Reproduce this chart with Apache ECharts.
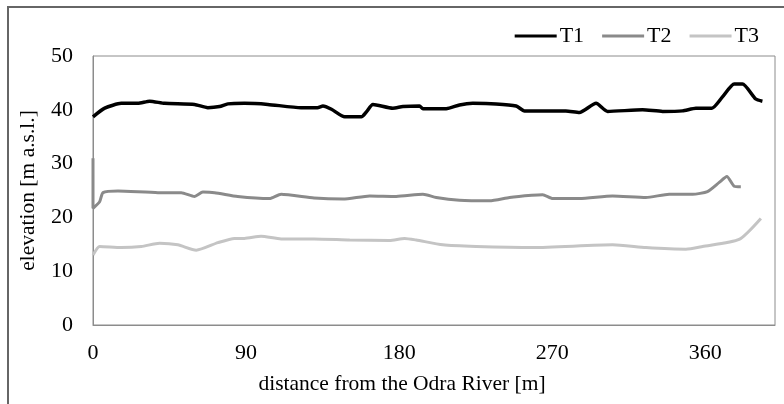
<!DOCTYPE html>
<html lang="en">
<head>
  <meta charset="UTF-8" />
  <title>Elevation profiles T1-T3</title>
  <script src="https://cdn.jsdelivr.net/npm/echarts@6.0.0/dist/echarts.min.js"></script>
  <style>
    html, body { margin: 0; padding: 0; background: #fff; }
    #chart { width: 784px; height: 404px; }
  </style>
</head>
<body>
  <div id="chart"></div>
  <script>
    // profile T1 - distance [m] / elevation [m a.s.l.]
    const t1Dist = [0, 6.9, 16.6, 26.4, 33.3, 42.1, 59.7, 67.5, 74.4, 79.3, 89, 102.8, 122.3, 132, 135.2, 140.2, 148, 157.8, 160.7, 164.6, 176.3, 182.2, 192, 194, 207.7, 215.5, 223.3, 237, 248.8, 253.7, 262.5, 278, 286, 295.8, 302.6, 323.1, 334.9, 346.6, 354.5, 363.9, 370.1, 377, 381.9, 389.7, 393.6];
    const t1Elev = [38.7, 40.3, 41.2, 41.2, 41.6, 41.2, 41.0, 40.4, 40.6, 41.1, 41.2, 41.0, 40.4, 40.4, 40.7, 40.1, 38.7, 38.7, 39.6, 41.0, 40.3, 40.6, 40.7, 40.2, 40.2, 40.9, 41.2, 41.1, 40.7, 39.8, 39.8, 39.8, 39.5, 41.2, 39.7, 40.0, 39.7, 39.8, 40.3, 40.3, 42.4, 44.8, 44.8, 42.0, 41.6];

    // profile T2
    const t2Dist = [0, 0, 3.9, 5.9, 14.7, 38.2, 51.9, 59.7, 64.6, 71.5, 85.1, 103.8, 110.6, 130, 147, 162.7, 178.3, 194, 201.8, 215.5, 233.1, 244.9, 258, 264.4, 270.3, 286, 305.5, 325.1, 338.8, 352.5, 361.3, 368.2, 372.7, 377, 380.9];
    const t2Elev = [31.0, 21.7, 22.9, 24.6, 24.9, 24.6, 24.6, 23.9, 24.7, 24.6, 23.9, 23.5, 24.3, 23.6, 23.4, 24.0, 23.9, 24.3, 23.7, 23.2, 23.1, 23.7, 24.1, 24.2, 23.5, 23.5, 24.0, 23.7, 24.3, 24.3, 24.8, 26.5, 27.6, 25.8, 25.7];

    // profile T3
    const t3Dist = [0, 3.9, 16.6, 28.4, 39.2, 49.9, 60.7, 73.4, 83.2, 89, 98.8, 110.6, 130, 150.9, 174.4, 183.2, 190, 205.7, 225.3, 259, 305.5, 325.1, 348.6, 358.4, 379.9, 392.7];
    const t3Elev = [13.0, 14.6, 14.4, 14.6, 15.2, 14.9, 13.9, 15.3, 16.1, 16.1, 16.5, 16.0, 16.0, 15.8, 15.7, 16.1, 15.8, 14.9, 14.6, 14.4, 14.9, 14.4, 14.1, 14.6, 15.9, 19.8];

    const xTicks = [0, 90, 180, 270, 360];

    function pairs(xs, ys) {
      return xs.map((x, i) => [x, ys[i]]);
    }

    const serif = '"Liberation Serif", "DejaVu Serif", serif';
    const chart = echarts.init(document.getElementById('chart'));

    chart.setOption({
      animation: false,
      backgroundColor: '#fff',
      textStyle: { fontFamily: serif },
      grid: {
        left: 93, right: 9, top: 56, bottom: 79,
        show: true, borderColor: '#8c8c8c', borderWidth: 1
      },
      legend: {
        right: 20, top: 20,
        icon: 'rect', itemWidth: 42, itemHeight: 3, itemGap: 18,
        textStyle: { fontFamily: serif, fontSize: 22, color: '#000', padding: [0, 0, 0, -2] },
        data: ['T1', 'T2', 'T3']
      },
      xAxis: {
        type: 'value', min: 0, max: 401, interval: 90,
        axisLine: { show: true, lineStyle: { color: '#8c8c8c' } },
        axisTick: { show: false },
        splitLine: { show: false },
        axisLabel: {
          fontFamily: serif, fontSize: 22, color: '#000', margin: 17,
          showMaxLabel: false,
          formatter: v => xTicks.includes(v) ? String(v) : ''
        }
      },
      yAxis: {
        type: 'value', min: 0, max: 50, interval: 10,
        name: 'elevation [m a.s.l.]', nameLocation: 'middle', nameGap: 54,
        nameTextStyle: { fontFamily: serif, fontSize: 21.5, color: '#000' },
        axisLine: { show: true, lineStyle: { color: '#8c8c8c' } },
        axisTick: { show: false },
        splitLine: { show: false },
        axisLabel: { fontFamily: serif, fontSize: 22, color: '#000', margin: 20 }
      },
      graphic: [
        {
          type: 'rect', silent: true,
          shape: { x: 8, y: 7, width: 800, height: 420 },
          style: { fill: 'none', stroke: '#666', lineWidth: 2 }
        },
        {
          type: 'text', x: 402, y: 384,
          style: {
            text: 'distance from the Odra River [m]',
            font: '21.5px ' + serif, fill: '#000',
            align: 'center', verticalAlign: 'middle'
          }
        }
      ],
      series: [
        {
          name: 'T1', type: 'line', showSymbol: false, smooth: 0.2,
          data: pairs(t1Dist, t1Elev),
          itemStyle: { color: '#000' },
          lineStyle: { color: '#000', width: 3.5 }
        },
        {
          name: 'T2', type: 'line', showSymbol: false, smooth: 0.2,
          data: pairs(t2Dist, t2Elev),
          itemStyle: { color: '#8a8a8a' },
          lineStyle: { color: '#8a8a8a', width: 3 }
        },
        {
          name: 'T3', type: 'line', showSymbol: false, smooth: 0.2,
          data: pairs(t3Dist, t3Elev),
          itemStyle: { color: '#c4c4c4' },
          lineStyle: { color: '#c4c4c4', width: 3 }
        }
      ]
    });
  </script>
</body>
</html>
